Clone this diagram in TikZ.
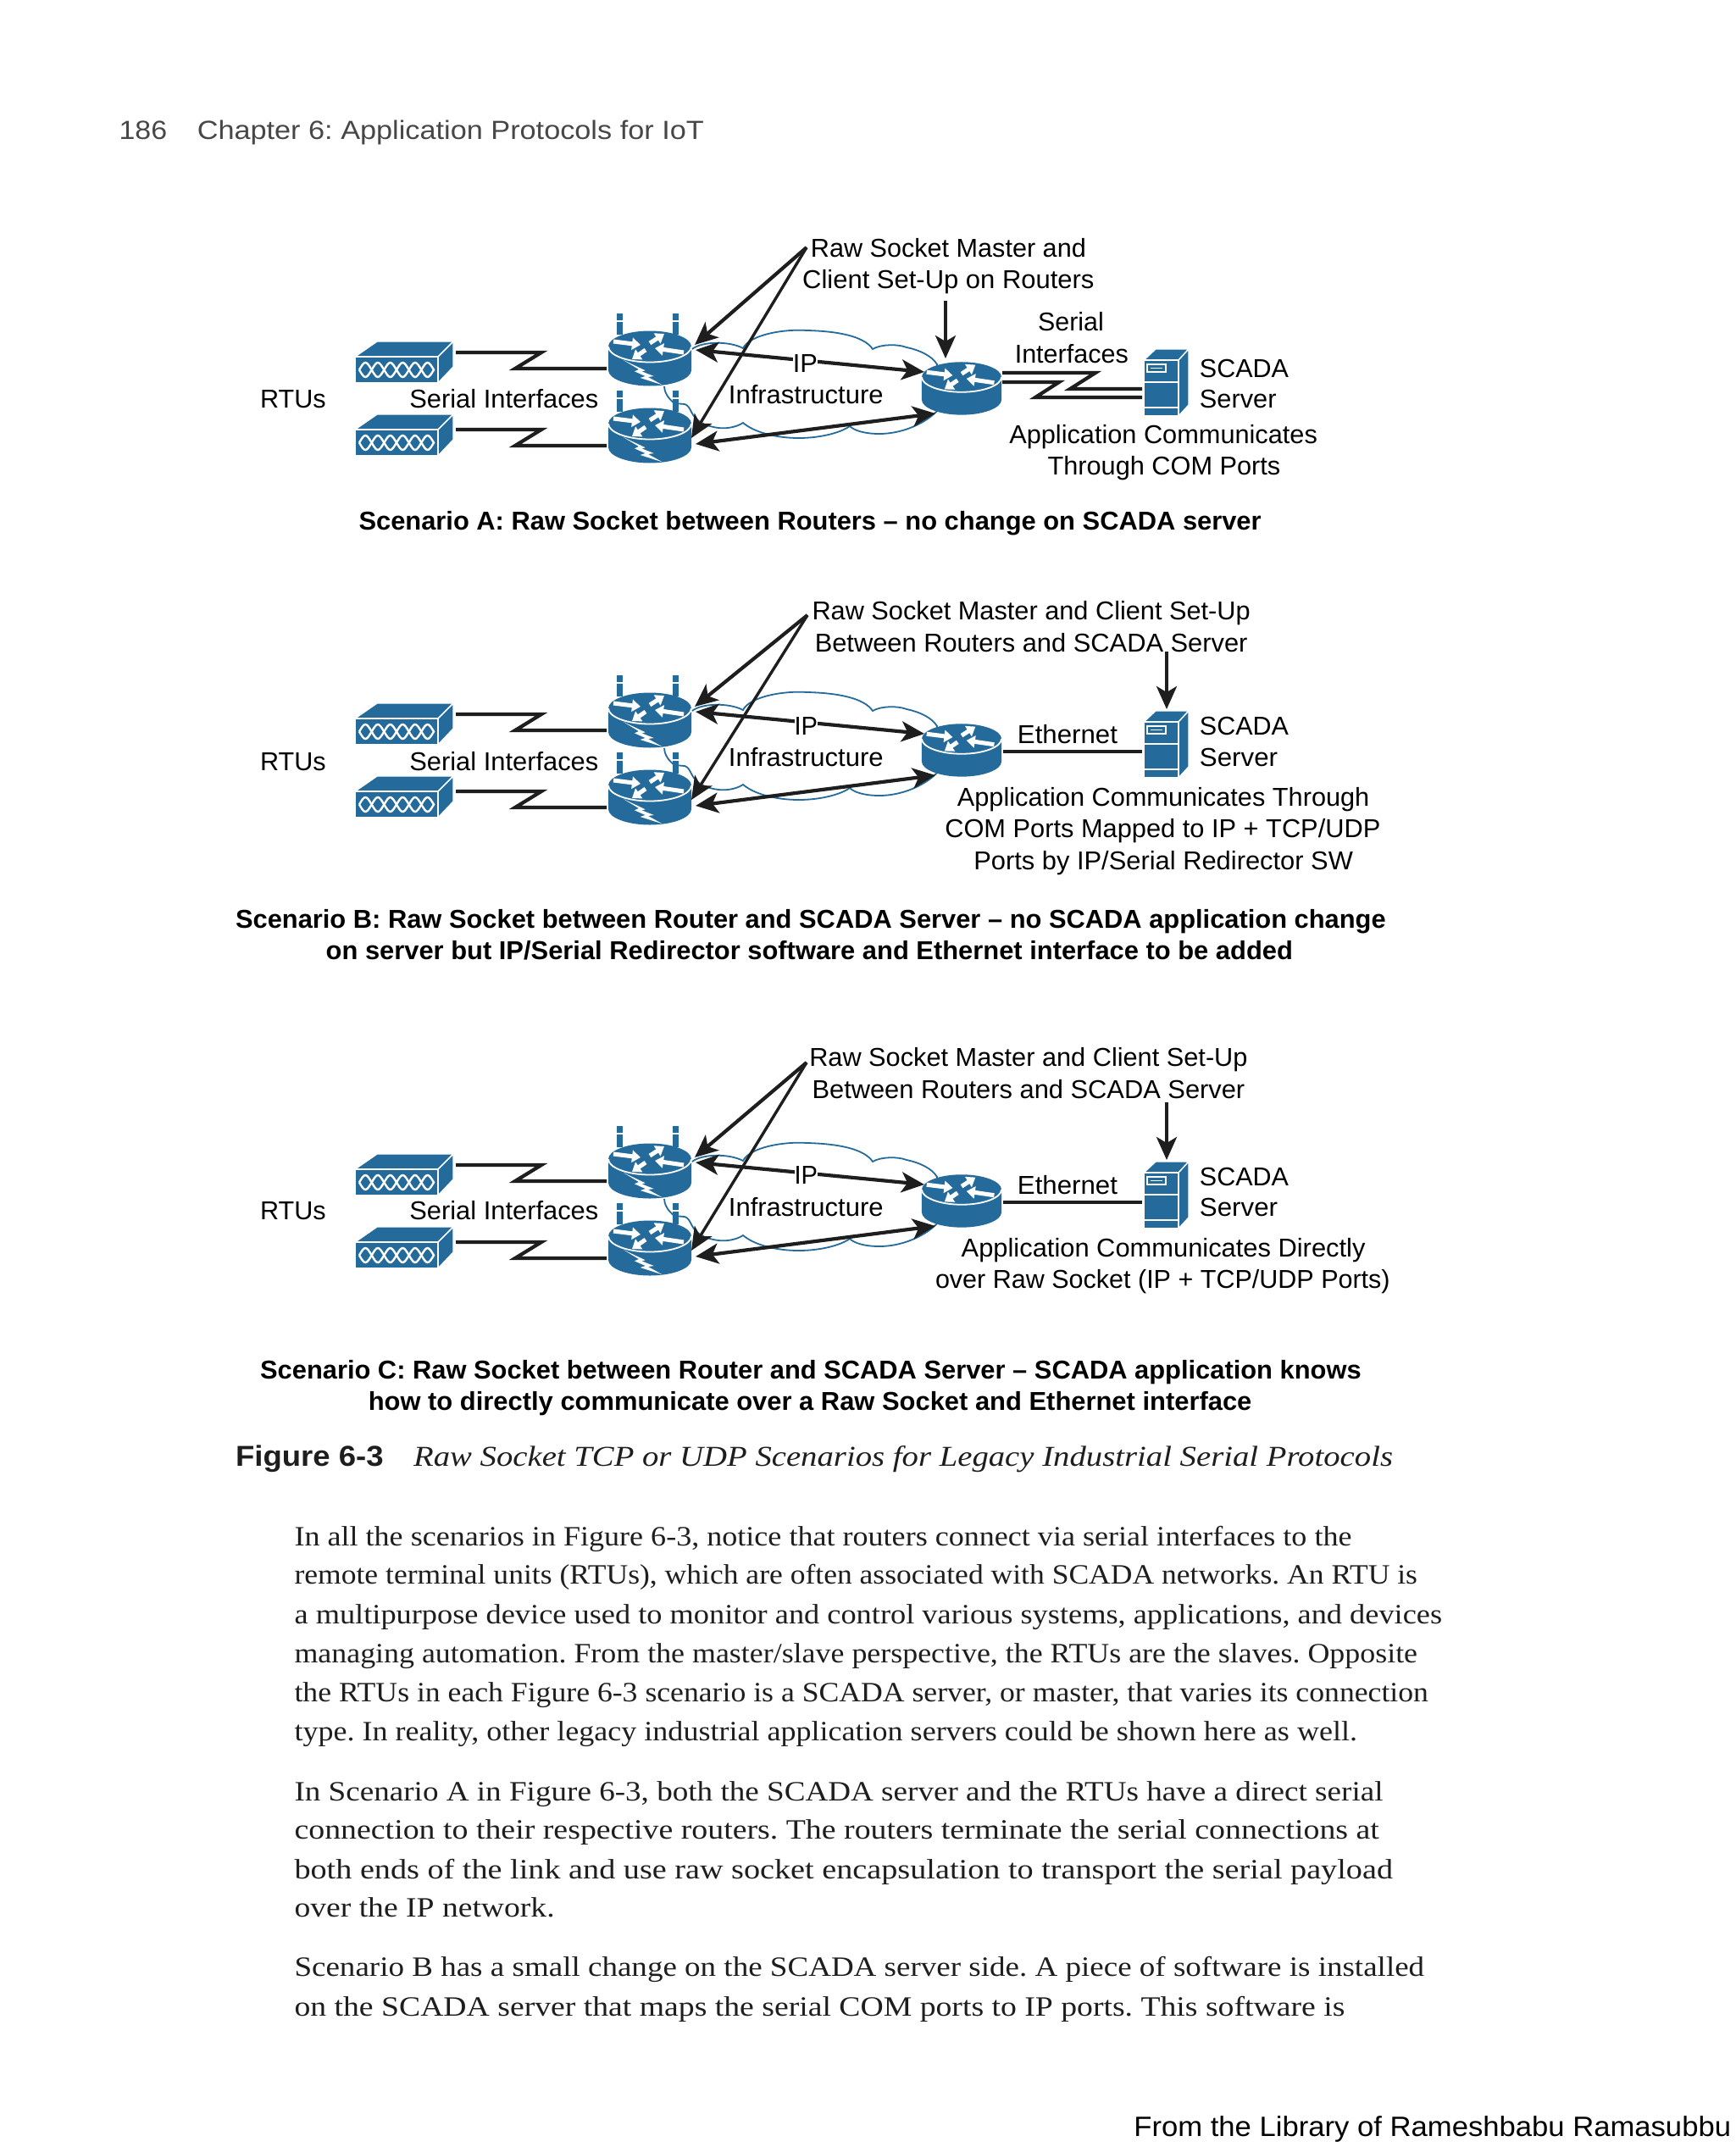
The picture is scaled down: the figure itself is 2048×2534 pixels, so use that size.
\documentclass[tikz,border=0pt]{standalone}
\usepackage{fontspec}
\usepackage{graphicx}
\setmainfont{Liberation Sans}
\newfontfamily\bodyfont{Liberation Serif}
\usetikzlibrary{arrows.meta}
\definecolor{ciscoblue}{HTML}{246B9C}
\definecolor{ink}{HTML}{1E1E1E}
\newcounter{txlc}
\newcommand{\txl}[5][]{\stepcounter{txlc}\pgfmathsetmacro\txlw{(#3-#2)*1.6164}\pgfmathsetmacro\txlx{#2*1.6164}\pgfmathsetmacro\txly{#4*1.6164+11}\node[lab,#1] (t\thetxlc) at (\txlx,\txly) {\resizebox{\txlw pt}{\height}{\frenchspacing #5}};}
\tikzset{
  lab/.style={anchor=base west,inner sep=0pt,outer sep=0pt,text=black,font=\fontsize{30.5}{36}\selectfont},
  boldlab/.style={font=\fontsize{30.5}{36}\selectfont\bfseries},
  bodylab/.style={text=ink,font=\fontsize{33}{40}\selectfont\bodyfont},
  itallab/.style={text=ink,font=\fontsize{34}{40}\selectfont\bodyfont\itshape},
  headlab/.style={text=black!72,font=\fontsize{31}{36}\selectfont},
  devfill/.style={fill=ciscoblue,draw=white,line width=1.4pt,line join=round},
  whitearrow/.style={draw=white,line width=5pt,-{Triangle[length=10pt,width=14pt]}},
  wire/.style={draw=ink,line width=4.2pt,line join=miter},
  callout/.style={draw=ink,line width=4.2pt,-{Stealth[length=27pt,width=24pt,inset=7pt]}},
  calloutthin/.style={draw=ink,line width=3.4pt,-{Stealth[length=27pt,width=24pt,inset=7pt]}},
  both/.style={draw=ink,line width=4.2pt,{Stealth[length=27pt,width=24pt,inset=7pt]}-{Stealth[length=27pt,width=24pt,inset=7pt]}},
  cloudline/.style={draw=ciscoblue,line width=1.8pt},
  pics/rtu/.style={code={
    \path[devfill] (0,0)--(26,-18)--(116,-18)--(98,0)--cycle;
    \path[devfill] (98,0)--(116,-18)--(116,12)--(98,31)--cycle;
    \path[devfill] (0,0) rectangle (98,31);
    \foreach \k in {0,...,5}{
      \pgfmathsetmacro\dx{5+\k*14.67}
      \draw[white,line width=2.4pt,shift={(\dx,15.5)}] (0,0) .. controls (3,-5) and (5,-8.5) .. (7.3,-8.5) .. controls (9.6,-8.5) and (11.6,-5) .. (14.67,0) .. controls (11.6,5) and (9.6,8.5) .. (7.3,8.5) .. controls (5,8.5) and (3,5) .. (0,0);
    }
  }},
  pics/antennas/.style={code={
    \fill[ciscoblue] (-39.5,-39) rectangle (-32.5,-31);
    \fill[ciscoblue] (-39.5,-29.5) rectangle (-32.5,-14);
    \fill[ciscoblue] (26.5,-39) rectangle (33.5,-31);
    \fill[ciscoblue] (26.5,-29.5) rectangle (33.5,-14);
  }},
  pics/router/.style={code={
    \fill[ciscoblue] (-49,0) -- (-49,28) .. controls (-49,38) and (-27,46.5) .. (0,46.5) .. controls (27,46.5) and (49,38) .. (49,28) -- (49,0) .. controls (49,-10) and (27,-18.5) .. (0,-18.5) .. controls (-27,-18.5) and (-49,-10) .. cycle;
    \draw[white,line width=1.8pt] (-49,0) .. controls (-49,10) and (-27,18.5) .. (0,18.5) .. controls (27,18.5) and (49,10) .. (49,0);
    \draw[whitearrow] (-43,-6) -- (-11,-2);
    \draw[whitearrow] (0,-4) -- (17,-15);
    \draw[whitearrow] (40,7) -- (6,2);
    \draw[whitearrow] (-5,4) -- (-21,15);
  }},
  pics/bolt/.style={code={
    \fill[white] (-31.3,16) -- (-5.3,28.3) -- (-9.7,29.3) -- (4.7,35) -- (-2,36) -- (14.7,45.3) -- (-11.3,37) -- (-5.3,35) -- (-18,29.3) -- (-13,27) -- cycle;
  }},
  pics/server/.style={code={
    \path[devfill] (0,0)--(14,-13)--(53,-13)--(41,0)--cycle;
    \path[devfill] (41,0)--(53,-13)--(53,53)--(41,66)--cycle;
    \path[devfill] (0,0) rectangle (41,66);
    \draw[white,line width=1.6pt] (0,26)--(41,26) (0,56)--(41,56);
    \draw[white,line width=1.4pt] (4,5) rectangle (26,14);
    \draw[white,line width=1.4pt] (8,9.5)--(22,9.5);
  }}
}
% #1 prefix, #2 vertical offset, #3 apex y within the scenario, #4 x of the apex
\newcommand{\scenario}[4]{%
\begin{scope}[shift={(0,#2)}]
  \draw[cloudline] (817,412) .. controls (828,403) and (860,402) .. (877,411)
    .. controls (885,395) and (925,388) .. (953,390) .. controls (990,391) and (1020,397) .. (1030,412)
    .. controls (1040,406) and (1060,406) .. (1070,410) .. controls (1085,413) and (1100,420) .. (1106,430)
    -- (1110,480) .. controls (1100,495) and (1070,512) .. (1038,512) .. controls (1020,512) and (1008,508) .. (1003,503)
    .. controls (990,512) and (965,517) .. (943,517) .. controls (915,517) and (890,510) .. (877,499)
    .. controls (868,505) and (855,506) .. (848,505) .. controls (832,503) and (822,497) .. (817,488)
    .. controls (814,482) and (812,478) .. (808,477) -- (796,476)
    .. controls (788,470) and (784,462) .. (784,456);
  \pic (#1rtua) at (419,421) {rtu};
  \pic (#1rtub) at (419,507) {rtu};
  \pic (#1anta) at (767,409) {antennas};
  \pic (#1antb) at (767,500) {antennas};
  \pic (#1ra) at (767,409) {router};
  \pic (#1boa) at (767,409) {bolt};
  \pic (#1rb) at (767,500) {router};
  \pic (#1bob) at (767,500) {bolt};
  \pic[scale=0.96] (#1rc) at (1135,445) {router};
  \coordinate (#1sa0) at (538,416);
  \coordinate (#1sa1) at (639,416);
  \coordinate (#1sa2) at (608,435);
  \coordinate (#1sa3) at (716,435);
  \coordinate (#1sb0) at (538,507);
  \coordinate (#1sb1) at (639,507);
  \coordinate (#1sb2) at (608,526);
  \coordinate (#1sb3) at (716,526);
  \coordinate (#1apex) at (#4,#3);
  \coordinate (#1tipa) at (820,407);
  \coordinate (#1tipb) at (816,517);
  \coordinate (#1ipl) at (821,413);
  \coordinate (#1ipr) at (1091,439);
  \coordinate (#1lol) at (821,524);
  \coordinate (#1lor) at (1104,488);
  \draw[wire] (#1sa0) -- (#1sa1) -- (#1sa2) -- (#1sa3);
  \draw[wire] (#1sb0) -- (#1sb1) -- (#1sb2) -- (#1sb3);
  \draw[callout] (#1apex) -- (#1tipa);
  \draw[calloutthin] (#1apex) -- (#1tipb);
  \draw[both] (#1ipl) -- (#1ipr);
  \draw[both] (#1lol) -- (#1lor);
\end{scope}}
\begin{document}
\begin{tikzpicture}[x=1pt,y=-1pt]
\useasboundingbox (0,0) rectangle (2048,2534);
\fill[white] (0,0) rectangle (2048,2534);

\txl[headlab]{87}{122}{95}{186}
\txl[headlab]{144}{514}{95}{Chapter 6: Application Protocols for IoT}

% ---------- Scenario A
\scenario{A}{0}{292}{952}
\pic (Asrv) at (1350,425) {server};
\coordinate (Adn0) at (1116,355);
\coordinate (Adn1) at (1116,423);
\draw[callout] (Adn0) -- (Adn1);
\coordinate (Asc0) at (1183,440);
\coordinate (Asc1) at (1293,440);
\coordinate (Asc2) at (1263,459);
\coordinate (Asc3) at (1348,459);
\coordinate (Asd0) at (1183,451);
\coordinate (Asd1) at (1250,451);
\coordinate (Asd2) at (1222,469);
\coordinate (Asd3) at (1348,469);
\draw[wire] (Asc0) -- (Asc1) -- (Asc2) -- (Asc3);
\draw[wire] (Asd0) -- (Asd1) -- (Asd2) -- (Asd3);
\txl{592}{793}{181}{Raw Socket Master and}
\txl{586}{799}{204}{Client Set-Up on Routers}
\txl{758}{806}{235}{Serial}
\txl{741}{824}{258}{Interfaces}
\txl{876}{941}{269}{SCADA}
\txl{876}{932}{291}{Server}
\txl{737}{962}{317}{Application Communicates}
\txl{765}{935}{340}{Through COM Ports}
\txl[fill=white]{579}{597}{265}{IP}
\txl{532}{645}{288}{Infrastructure}
\txl{190}{238}{291}{RTUs}
\txl{299}{437}{291}{Serial Interfaces}
\txl[boldlab]{262}{921}{380}{Scenario A: Raw Socket between Routers – no change on SCADA server}

% ---------- Scenario B
\scenario{B}{427}{299}{953}
\pic (Bsrv) at (1350,852) {server};
\coordinate (Bdn0) at (1377,769);
\coordinate (Bdn1) at (1377,837);
\draw[callout] (Bdn0) -- (Bdn1);
\coordinate (Beth0) at (1184,887);
\coordinate (Beth1) at (1348,887);
\draw[wire] (Beth0) -- (Beth1);
\txl{593}{913}{446}{Raw Socket Master and Client Set-Up}
\txl{595}{911}{469}{Between Routers and SCADA Server}
\txl{743}{816}{536}{Ethernet}
\txl{876}{941}{530}{SCADA}
\txl{876}{933}{553}{Server}
\txl[fill=white]{580}{597}{530}{IP}
\txl{532}{645}{553}{Infrastructure}
\txl{190}{238}{556}{RTUs}
\txl{299}{437}{556}{Serial Interfaces}
\txl{699}{1000}{582}{Application Communicates Through}
\txl{690}{1008}{605}{COM Ports Mapped to IP + TCP/UDP}
\txl{711}{988}{628}{Ports by IP/Serial Redirector SW}
\txl[boldlab]{172}{1012}{671}{Scenario B: Raw Socket between Router and SCADA Server – no SCADA application change}
\txl[boldlab]{238}{944}{694}{on server but IP/Serial Redirector software and Ethernet interface to be added}

% ---------- Scenario C
\scenario{C}{959}{295}{952}
\pic (Csrv) at (1350,1384) {server};
\coordinate (Cdn0) at (1377,1301);
\coordinate (Cdn1) at (1377,1369);
\draw[callout] (Cdn0) -- (Cdn1);
\coordinate (Ceth0) at (1184,1419);
\coordinate (Ceth1) at (1348,1419);
\draw[wire] (Ceth0) -- (Ceth1);
\txl{591}{911}{772}{Raw Socket Master and Client Set-Up}
\txl{593}{909}{795}{Between Routers and SCADA Server}
\txl{743}{816}{865}{Ethernet}
\txl{876}{941}{859}{SCADA}
\txl{876}{933}{881}{Server}
\txl[fill=white]{580}{597}{858}{IP}
\txl{532}{645}{881}{Infrastructure}
\txl{190}{238}{884}{RTUs}
\txl{299}{437}{884}{Serial Interfaces}
\txl{702}{997}{911}{Application Communicates Directly}
\txl{683}{1015}{934}{over Raw Socket (IP + TCP/UDP Ports)}
\txl[boldlab]{190}{994}{1000}{Scenario C: Raw Socket between Router and SCADA Server – SCADA application knows}
\txl[boldlab]{269}{914}{1023}{how to directly communicate over a Raw Socket and Ethernet interface}

% ---------- Caption and body
\txl[boldlab,font=\fontsize{34}{40}\selectfont\bfseries,text=ink]{172}{280}{1064}{Figure 6-3}
\txl[itallab]{302}{1017}{1064}{Raw Socket TCP or UDP Scenarios for Legacy Industrial Serial Protocols}

\txl[bodylab]{215}{987}{1122}{In all the scenarios in Figure 6-3, notice that routers connect via serial interfaces to the}
\txl[bodylab]{215}{1035}{1150}{remote terminal units (RTUs), which are often associated with SCADA networks. An RTU is}
\txl[bodylab]{215}{1053}{1179}{a multipurpose device used to monitor and control various systems, applications, and devices}
\txl[bodylab]{215}{1035}{1207}{managing automation. From the master/slave perspective, the RTUs are the slaves. Opposite}
\txl[bodylab]{215}{1043}{1236}{the RTUs in each Figure 6-3 scenario is a SCADA server, or master, that varies its connection}
\txl[bodylab]{215}{991}{1264}{type. In reality, other legacy industrial application servers could be shown here as well.}
\txl[bodylab]{215}{1010}{1308}{In Scenario A in Figure 6-3, both the SCADA server and the RTUs have a direct serial}
\txl[bodylab]{215}{1007}{1336}{connection to their respective routers. The routers terminate the serial connections at}
\txl[bodylab]{215}{1017}{1365}{both ends of the link and use raw socket encapsulation to transport the serial payload}
\txl[bodylab]{215}{405}{1393}{over the IP network.}
\txl[bodylab]{215}{1040}{1436}{Scenario B has a small change on the SCADA server side. A piece of software is installed}
\txl[bodylab]{215}{982}{1465}{on the SCADA server that maps the serial COM ports to IP ports. This software is}

\txl[font=\fontsize{33}{40}\selectfont]{828}{1264}{1553}{From the Library of Rameshbabu Ramasubbu}
\end{tikzpicture}
\end{document}
